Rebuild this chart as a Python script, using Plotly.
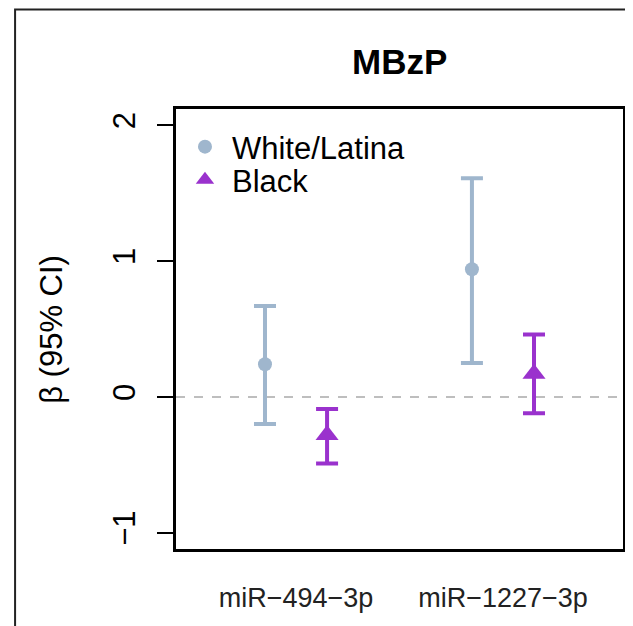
import plotly.graph_objects as go

categories = ["miR−494−3p", "miR−1227−3p"]
cat_pos = [1, 2]
groups = ["White/Latina", "Black"]
offsets = [-0.15, 0.15]
colors = ["#9FB6CD", "#9A32CD"]
symbols = ["circle", "triangle-up"]
marker_sizes = [14, 20]

beta = {"White/Latina": [0.24, 0.94], "Black": [-0.28, 0.17]}
lower = {"White/Latina": [-0.20, 0.25], "Black": [-0.49, -0.12]}
upper = {"White/Latina": [0.67, 1.61], "Black": [-0.09, 0.46]}

y_ticks = [-1, 0, 1, 2]
y_ticktext = ["−1", "0", "1", "2"]
title_text = "MBzP"
y_title = "β (95% CI)"

FONT = "Liberation Sans, Arial, sans-serif"

# page offset (body margin) and plot box in window pixels
OFF = 8
PX0, PX1, PY0, PY1 = 176, 626, 109, 549
W, H = 633 - OFF, 626 - OFF
L, R, T, B = PX0 - OFF, 633 - PX1, PY0 - OFF, 626 - PY1
pw, ph = PX1 - PX0, PY1 - PY0


def px(xi):
    return (xi - PX0) / pw


def py(yi):
    return (PY1 - yi) / ph


legend_names = ["legend", "legend2"]
legend_rows = [147, 180]

fig = go.Figure()
for g, off, col, sym, ms, lg in zip(groups, offsets, colors, symbols, marker_sizes, legend_names):
    xs = [p + off for p in cat_pos]
    ys = beta[g]
    fig.add_trace(go.Scatter(
        x=xs, y=ys, mode="markers", name=g, legend=lg,
        marker=dict(color=col, symbol=sym, size=ms, line=dict(width=0)),
        error_y=dict(type="data", symmetric=False,
                     array=[u - b for u, b in zip(upper[g], ys)],
                     arrayminus=[b - l for b, l in zip(ys, lower[g])],
                     color=col, thickness=4, width=11),
    ))

fig.add_shape(type="line", xref="paper", yref="y", x0=0, x1=1, y0=0, y1=0,
              line=dict(color="#BEBEBE", width=2, dash="dash"), layer="below")
# outer frame
fig.add_shape(type="rect", xref="paper", yref="paper",
              x0=px(14), x1=1.2, y0=-0.4, y1=py(9.5),
              line=dict(color="#222222", width=2))

fig.add_annotation(text="<b>" + title_text + "</b>", xref="paper", yref="paper",
                   x=0.5, y=py(62), xanchor="center", yanchor="middle",
                   showarrow=False, font=dict(size=35, color="black", family=FONT))
fig.add_annotation(text=y_title, xref="paper", yref="paper",
                   x=px(50), y=0.5, xanchor="center", yanchor="middle",
                   textangle=-90, showarrow=False,
                   font=dict(size=31, color="black", family=FONT))

leg_common = dict(xanchor="left", yanchor="middle", bgcolor="rgba(0,0,0,0)",
                  font=dict(size=31, color="black", family=FONT),
                  itemsizing="trace", itemwidth=44)

fig.update_layout(
    width=W, height=H, margin=dict(l=L, r=R, t=T, b=B, pad=0),
    paper_bgcolor="white", plot_bgcolor="white",
    font=dict(family=FONT, color="black"),
    showlegend=True,
    legend=dict(x=px(178), y=py(legend_rows[0]), **leg_common),
    legend2=dict(x=px(178), y=py(legend_rows[1]), **leg_common),
    xaxis=dict(range=[0.42, 2.58], tickvals=cat_pos, ticktext=categories,
               ticks="", showgrid=False, zeroline=False, showline=True, mirror=True,
               linecolor="black", linewidth=3, ticklabelstandoff=23,
               tickfont=dict(size=27, color="#222222", family=FONT)),
    yaxis=dict(range=[-1.12, 2.12], tickvals=y_ticks, ticktext=y_ticktext,
               ticks="outside", ticklen=16, tickwidth=2, tickcolor="black",
               tickangle=-90, ticklabelstandoff=10,
               showgrid=False, zeroline=False, showline=True, mirror=True,
               linecolor="black", linewidth=3,
               tickfont=dict(size=31, color="black", family=FONT)),
)

fig.write_html("out.html")
